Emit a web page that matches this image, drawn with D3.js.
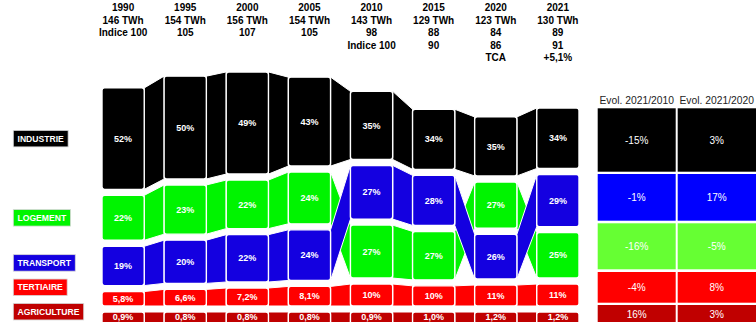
<!DOCTYPE html>
<html><head><meta charset="utf-8">
<script src="https://cdn.jsdelivr.net/npm/d3@7"></script>
<style>
html,body{margin:0;padding:0;background:#fff;overflow:hidden}
svg{display:block;font-family:"Liberation Sans",Arial,sans-serif}
</style></head><body>
<svg id="c" width="756" height="322"></svg>
<script>
// ---------- DATA ----------
const years = ["1990","1995","2000","2005","2010","2015","2020","2021"];
const totals = [146,154,156,154,143,129,123,130]; // TWh
const categories = ["INDUSTRIE","LOGEMENT","TRANSPORT","TERTIAIRE","AGRICULTURE"];
// shares in % (estimated; one decimal where the picture rounds to equal values)
const industrie   = [52,50,49,43,35,34,35,34];
const logement    = [22,23,22.4,24.3,26.8,27,27,25];
const transport   = [19,20,21.8,23.7,27.2,28,26,29];
const tertiaire   = [5.8,6.6,7.2,8.1,10,10,11,11];
const agriculture = [0.9,0.8,0.8,0.8,0.9,1.0,1.2,1.2];
const headerLines = [
  ["1990","146 TWh","Indice 100"],
  ["1995","154 TWh","105"],
  ["2000","156 TWh","107"],
  ["2005","154 TWh","105"],
  ["2010","143 TWh","98","Indice 100"],
  ["2015","129 TWh","88","90"],
  ["2020","123 TWh","84","86","TCA"],
  ["2021","130 TWh","89","91","+5,1%"]
];
const evolHeaders = ["Evol. 2021/2010","Evol. 2021/2020"];
const tableRows = ["INDUSTRIE","TRANSPORT","LOGEMENT","TERTIAIRE","AGRICULTURE"];
const evol2010 = ["-15%","-1%","-16%","-4%","16%"];
const evol2020 = ["3%","17%","-5%","8%","3%"];

// ---------- STYLE / LAYOUT ----------
const shares = {INDUSTRIE:industrie, LOGEMENT:logement, TRANSPORT:transport, TERTIAIRE:tertiaire, AGRICULTURE:agriculture};
const barColor = {INDUSTRIE:"#000000", LOGEMENT:"#00f400", TRANSPORT:"#1400e0", TERTIAIRE:"#ff0000", AGRICULTURE:"#c00000"};
const tableColor = {INDUSTRIE:"#000000", LOGEMENT:"#66ff33", TRANSPORT:"#0000ff", TERTIAIRE:"#ff0000", AGRICULTURE:"#c00000"};
const fixedBottom = ["TERTIAIRE","AGRICULTURE"];

const svg = d3.select("#c");
const x = d3.scaleBand().domain(years).range([102, 579]).paddingInner(0.32).paddingOuter(0);
const h = d3.scaleLinear().domain([0, 100]).range([3.5, 132.5]); // TWh -> px height
const stackBottom = 326, gap = 6, minH = 14;

// compute layout per year
const layout = years.map((yr, i) => {
  const vals = categories.map(c => ({cat:c, twh: shares[c][i] * totals[i] / 100, pct: shares[c][i]}));
  const top = vals.filter(d => !fixedBottom.includes(d.cat)).sort((a,b) => b.pct - a.pct);
  const order = top.concat(fixedBottom.map(c => vals.find(d => d.cat === c)));
  let yb = stackBottom;
  const segs = {};
  for (let k = order.length - 1; k >= 0; k--) {
    const d = order[k];
    const hh = d.cat === "AGRICULTURE" ? Math.max(h(d.twh), minH) : h(d.twh);
    segs[d.cat] = {y0: yb - hh, y1: yb, pct: d.pct};
    yb = yb - hh - gap;
  }
  return segs;
});

const fmt = v => v >= 10 ? Math.round(v) + "%" : v.toFixed(1).replace(".", ",") + "%";

// links
const gLinks = svg.append("g");
categories.forEach(c => {
  for (let i = 0; i < years.length - 1; i++) {
    const a = layout[i][c], b = layout[i+1][c];
    const xa = x(years[i]) + x.bandwidth(), xb = x(years[i+1]);
    gLinks.append("path")
      .attr("d", `M${xa},${a.y0}L${xb},${b.y0}L${xb},${b.y1}L${xa},${a.y1}Z`)
      .attr("fill", barColor[c]).attr("stroke", "#fff").attr("stroke-width", 1);
  }
});

// bars
const gBars = svg.append("g");
years.forEach((yr, i) => {
  categories.forEach(c => {
    const s = layout[i][c];
    gBars.append("rect")
      .attr("x", x(yr)).attr("y", s.y0)
      .attr("width", x.bandwidth()).attr("height", s.y1 - s.y0)
      .attr("rx", 2.5).attr("ry", 2.5)
      .attr("fill", barColor[c]).attr("stroke", "#fff").attr("stroke-width", 1.4);
    gBars.append("text")
      .attr("x", x(yr) + x.bandwidth()/2).attr("y", Math.min((s.y0 + s.y1)/2, 317))
      .attr("dy", "0.35em").attr("text-anchor", "middle")
      .attr("fill", "#fff").attr("font-weight", "bold").attr("font-size", 9)
      .text(fmt(s.pct));
  });
});

// headers
headerLines.forEach((lines, i) => {
  const t = svg.append("text")
    .attr("text-anchor", "middle").attr("font-weight", "bold").attr("font-size", 10)
    .attr("fill", "#000");
  lines.forEach((ln, j) => {
    t.append("tspan").attr("x", x(years[i]) + x.bandwidth()/2).attr("y", 11 + j * 12.6).text(ln);
  });
});

// left category labels (placed at 1990 segment centres, pushed up to avoid overlap)
const labelStep = 24.4, labelH = 16.5, labelMaxY = 311.7;
const labelY = {};
let nextY = Infinity;
const bottomUp = ["AGRICULTURE","TERTIAIRE","TRANSPORT","LOGEMENT","INDUSTRIE"];
bottomUp.forEach(c => {
  const s = layout[0][c];
  let cy = Math.min((s.y0 + s.y1)/2, labelMaxY, nextY - labelStep);
  labelY[c] = cy; nextY = cy;
});
const gLab = svg.append("g");
categories.forEach(c => {
  const g = gLab.append("g");
  const rect = g.append("rect").attr("fill", barColor[c]).attr("stroke", "#d8d8d8").attr("stroke-width", 0.8);
  const t = g.append("text").attr("x", 17.5).attr("y", labelY[c]).attr("dy", "0.36em")
    .attr("fill", "#fff").attr("font-weight", "bold").attr("font-size", 8.6).text(c);
  const w = t.node().getComputedTextLength();
  rect.attr("x", 13.3).attr("y", labelY[c] - labelH/2).attr("width", w + 8.5).attr("height", labelH);
});

// right table
const colX = [597.7, 677.7], colW = [78, 80];
const rowSpans = [[108.3,171.7],[174,220.7],[223.3,269.3],[272,302.7],[305,330]];
const gT = svg.append("g");
evolHeaders.forEach((hd, j) => {
  gT.append("text").attr("x", colX[j] + 39).attr("y", 100).attr("dy", "0.35em")
    .attr("text-anchor", "middle").attr("font-size", 10.3).attr("fill", "#222").text(hd);
});
tableRows.forEach((c, r) => {
  [evol2010[r], evol2020[r]].forEach((v, j) => {
    const [y0, y1] = rowSpans[r];
    gT.append("rect").attr("x", colX[j]).attr("y", y0).attr("width", colW[j]).attr("height", y1 - y0)
      .attr("fill", tableColor[c]);
    gT.append("text").attr("x", colX[j] + 39).attr("y", r === 4 ? 314 : (y0 + y1)/2).attr("dy", "0.35em")
      .attr("text-anchor", "middle").attr("font-size", 10).attr("fill", "#fff").text(v);
  });
});
</script>
</body></html>
